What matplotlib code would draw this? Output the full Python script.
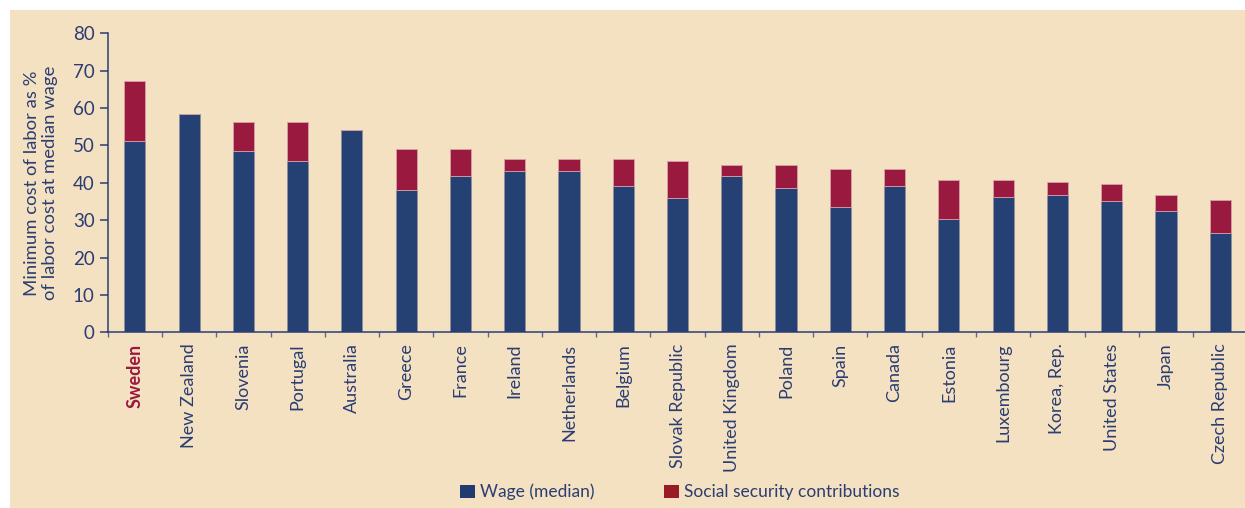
import matplotlib
matplotlib.use("Agg")
import matplotlib.pyplot as plt
import numpy as np
from matplotlib.patches import Patch, Rectangle

countries = ["Sweden", "New Zealand", "Slovenia", "Portugal", "Australia", "Greece",
             "France", "Ireland", "Netherlands", "Belgium", "Slovak Republic",
             "United Kingdom", "Poland", "Spain", "Canada", "Estonia", "Luxembourg",
             "Korea, Rep.", "United States", "Japan", "Czech Republic"]
wage = [51.3, 58.5, 48.5, 45.8, 54.0, 38.0, 41.9, 43.1, 43.1, 39.1, 35.8,
        41.9, 38.5, 33.6, 39.1, 30.2, 36.3, 36.8, 35.2, 32.5, 26.5]
total = [67.3, 58.5, 56.3, 56.3, 54.0, 49.0, 49.0, 46.3, 46.3, 46.3, 45.8,
         44.7, 44.7, 43.6, 43.6, 40.7, 40.7, 40.2, 39.7, 36.8, 35.4]
social = [t - w for t, w in zip(total, wage)]
yticks = [0, 10, 20, 30, 40, 50, 60, 70, 80]

BG = "#f3e1c1"
NAVY = "#254073"
RED = "#9a193e"
TXT = "#2b3d73"

plt.rcParams['font.family'] = ['Lato', 'DejaVu Sans']

fig = plt.figure(figsize=(12.45, 5.08), dpi=100)
fig.patch.set_facecolor("white")
fig.add_artist(Rectangle((10/1245, 0), 1, 1 - 10/508, transform=fig.transFigure,
                         facecolor=BG, edgecolor="none", zorder=-10))

ax = fig.add_axes([107.7/1245, (508-332.3)/508, 1 - 107.7/1245, 299/508])
ax.set_facecolor("none")

x = np.arange(len(countries))
ax.bar(x, wage, width=0.39, color=NAVY, edgecolor="#8f8f9f", linewidth=0.6, zorder=2)
ax.bar(x, social, bottom=wage, width=0.39, color=RED, edgecolor="#d9a0a8",
       linewidth=0.6, zorder=2)

ax.set_ylim(0, 80)
ax.set_xlim(-0.5, -0.5 + (1245 - 107.7) / 54.27)
ax.set_yticks(yticks)
ax.tick_params(axis='y', colors=TXT, labelsize=13.5, length=6, width=1.1, pad=3.5)
for s in ["top", "right"]:
    ax.spines[s].set_visible(False)
for s in ["left", "bottom"]:
    ax.spines[s].set_color(TXT)
    ax.spines[s].set_linewidth(1.1)

ax.set_xticks(x)
ax.set_xticklabels(countries, rotation=90, va='top', ha='center')
ax.tick_params(axis='x', which='major', length=0, pad=8, labelsize=13, labelcolor=TXT)
ax.set_xticks(np.arange(len(countries)) - 0.5, minor=True)
ax.tick_params(axis='x', which='minor', length=3.5, width=1.0, color="#5a6a94")
lbl0 = ax.get_xticklabels()[0]
lbl0.set_color(RED)
lbl0.set_fontweight('bold')

fig.text(41/1245, (508-183)/508, "Minimum cost of labor as %\nof labor cost at median wage",
         rotation=90, ha='center', va='center', fontsize=13.3, color=TXT, linespacing=1.15)

handles = [Patch(facecolor="#213a70", edgecolor='none', label="Wage (median)"),
           Patch(facecolor="#9b1b24", edgecolor='none', label="Social security contributions")]
leg = fig.legend(handles=handles, loc='center', bbox_to_anchor=(680/1245, (508-492)/508),
                 ncol=2, frameon=False, fontsize=12.5, handlelength=0.85, handleheight=0.8,
                 handletextpad=0.3, columnspacing=4.0, borderpad=0)
for t in leg.get_texts():
    t.set_color(TXT)

fig.savefig("out.png", dpi=100, facecolor=fig.get_facecolor())
